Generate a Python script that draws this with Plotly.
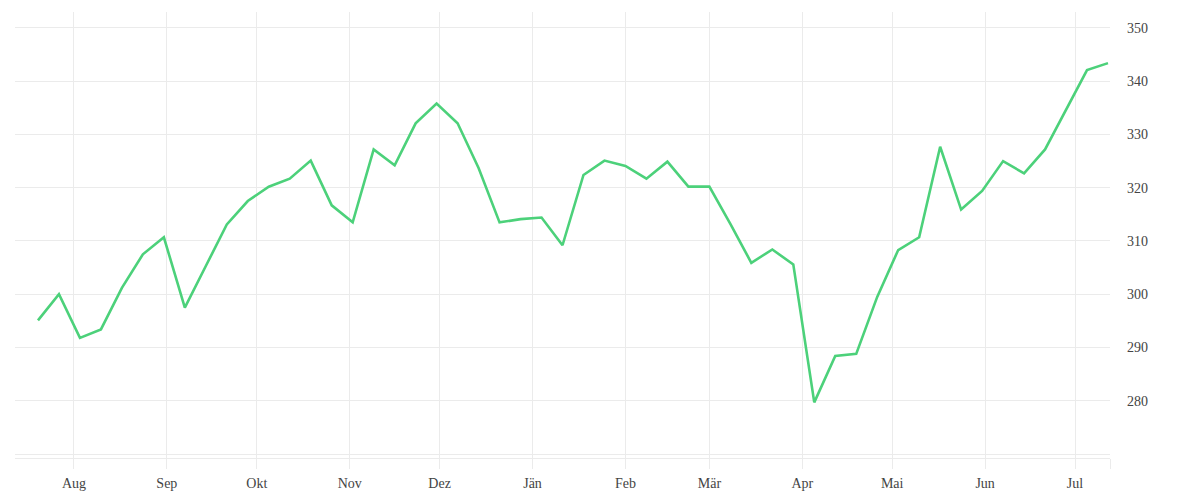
import pandas as pd
import plotly.graph_objects as go

# weekly values, Jul 2020 - Jul 2021
start_date = "2020-07-20"
values = [295.1, 300.0, 291.8, 293.4, 301.2, 307.5, 310.7, 297.5, 305.3, 313.1,
          317.5, 320.2, 321.7, 325.1, 316.7, 313.5, 327.2, 324.2, 332.1, 335.8,
          332.1, 323.7, 313.5, 314.1, 314.4, 309.2, 322.4, 325.1, 324.1, 321.7,
          324.9, 320.2, 320.2, 313.2, 305.9, 308.4, 305.6, 279.7, 288.4, 288.8,
          299.5, 308.3, 310.7, 327.7, 315.9, 319.4, 325.0, 322.7, 327.2, 334.6,
          342.1, 343.4]
dates = pd.date_range(start_date, periods=len(values), freq="7D")

month_ticks = ["2020-08-01", "2020-09-01", "2020-10-01", "2020-11-01", "2020-12-01",
               "2021-01-01", "2021-02-01", "2021-03-01", "2021-04-01", "2021-05-01",
               "2021-06-01", "2021-07-01", "2021-07-12 16:00"]
month_labels = ["Aug", "Sep", "Okt", "Nov", "Dez", "Jän", "Feb", "Mär", "Apr", "Mai",
                "Jun", "Jul", ""]
y_ticks = [270, 280, 290, 300, 310, 320, 330, 340, 350]
y_labels = ["", "280", "290", "300", "310", "320", "330", "340", "350"]

grid = "#ebebeb"

fig = go.Figure()
fig.add_trace(go.Scatter(x=dates, y=values, mode="lines",
                         line=dict(color="#4cd17a", width=2.6),
                         hoverinfo="x+y"))

fig.update_layout(
    width=1200, height=500,
    margin=dict(l=7, r=98, t=4, b=50),
    paper_bgcolor="white", plot_bgcolor="white",
    showlegend=False,
    font=dict(family="Liberation Serif, DejaVu Serif, serif", size=14, color="#444"),
)
fig.update_xaxes(
    range=["2020-07-12 08:00", "2021-07-12 16:00"],
    tickmode="array", tickvals=month_ticks, ticktext=month_labels,
    showgrid=True, gridcolor=grid, gridwidth=1,
    ticks="outside", ticklen=10, tickcolor=grid, tickwidth=1,
    ticklabelstandoff=2,
    showline=True, linecolor=grid, linewidth=1,
    zeroline=False,
)
fig.update_yaxes(
    side="right", range=[269.25, 353],
    tickmode="array", tickvals=y_ticks, ticktext=y_labels,
    showgrid=True, gridcolor=grid, gridwidth=1,
    ticks="", ticklabelstandoff=16,
    zeroline=False, showline=False,
)

fig.write_html("out.html")
